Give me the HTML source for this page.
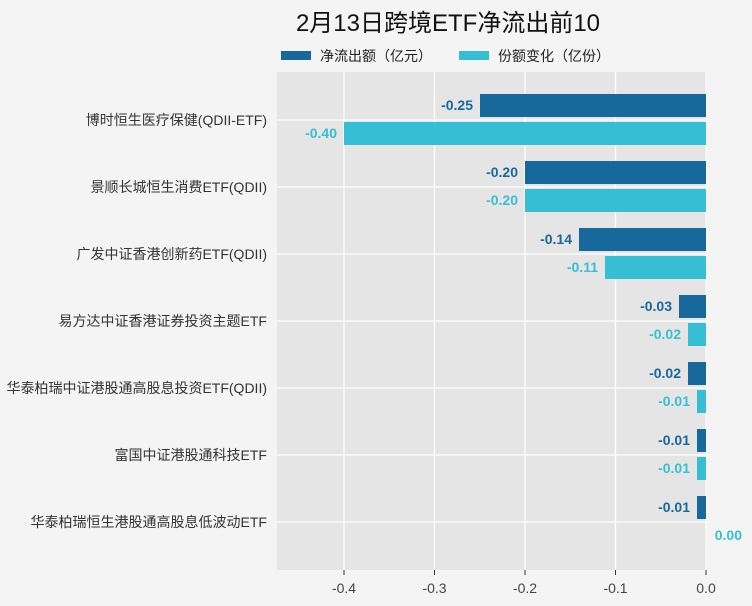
<!DOCTYPE html>
<html><head><meta charset="utf-8"><style>
body{margin:0;background:#f4f4f4;}
svg{display:block;font-family:"Liberation Sans","Noto Sans CJK SC",sans-serif;}
</style></head><body>
<svg width="752" height="606" viewBox="0 0 752 606">
<rect width="752" height="606" fill="#f4f4f4"/>
<text x="448" y="31" font-size="24" text-anchor="middle" fill="#111">2月13日跨境ETF净流出前10</text>
<rect x="281" y="51" width="30" height="9" fill="#17699b"/>
<text x="320" y="61" font-size="14" fill="#222">净流出额（亿元）</text>
<rect x="459" y="51" width="30" height="9" fill="#36bfd4"/>
<text x="498" y="61" font-size="14" fill="#222">份额变化（亿份）</text>
<rect x="277" y="72" width="429" height="498" fill="#e5e5e5"/>
<g stroke="#fff" stroke-width="1.2">
<line x1="344" y1="72" x2="344" y2="570"/><line x1="434.5" y1="72" x2="434.5" y2="570"/>
<line x1="525" y1="72" x2="525" y2="570"/><line x1="615.5" y1="72" x2="615.5" y2="570"/>
<line x1="706" y1="72" x2="706" y2="570"/>
<line x1="277" y1="120" x2="706" y2="120"/><line x1="277" y1="187" x2="706" y2="187"/>
<line x1="277" y1="254" x2="706" y2="254"/><line x1="277" y1="321" x2="706" y2="321"/>
<line x1="277" y1="388" x2="706" y2="388"/><line x1="277" y1="455" x2="706" y2="455"/>
<line x1="277" y1="522" x2="706" y2="522"/>
</g>
<g stroke="#333" stroke-width="1">
<line x1="344" y1="570" x2="344" y2="575"/><line x1="434.5" y1="570" x2="434.5" y2="575"/>
<line x1="525" y1="570" x2="525" y2="575"/><line x1="615.5" y1="570" x2="615.5" y2="575"/>
<line x1="706" y1="570" x2="706" y2="575"/>
</g>
<g font-size="14" fill="#444" text-anchor="middle">
<text x="344" y="593">-0.4</text><text x="434.5" y="593">-0.3</text><text x="525" y="593">-0.2</text><text x="615.5" y="593">-0.1</text><text x="706" y="593">0.0</text>
</g>
<g font-size="14" fill="#333" text-anchor="end">
<text x="267" y="125">博时恒生医疗保健(QDII-ETF)</text>
<text x="267" y="192">景顺长城恒生消费ETF(QDII)</text>
<text x="267" y="259">广发中证香港创新药ETF(QDII)</text>
<text x="267" y="326">易方达中证香港证券投资主题ETF</text>
<text x="267" y="393">华泰柏瑞中证港股通高股息投资ETF(QDII)</text>
<text x="267" y="460">富国中证港股通科技ETF</text>
<text x="267" y="527">华泰柏瑞恒生港股通高股息低波动ETF</text>
</g>
<g fill="#17699b">
<rect x="480" y="94" width="226" height="23"/>
<rect x="525" y="161" width="181" height="23"/>
<rect x="579" y="228" width="127" height="23"/>
<rect x="679" y="295" width="27" height="23"/>
<rect x="688" y="362" width="18" height="23"/>
<rect x="697" y="429" width="9" height="23"/>
<rect x="697" y="496" width="9" height="23"/>
</g>
<g fill="#36bfd4">
<rect x="344" y="122" width="362" height="23"/>
<rect x="525" y="189" width="181" height="23"/>
<rect x="605" y="256" width="101" height="23"/>
<rect x="688" y="323" width="18" height="23"/>
<rect x="697" y="390" width="9" height="23"/>
<rect x="697" y="457" width="9" height="23"/>
</g>
<g font-size="14" font-weight="bold" fill="#17699b" text-anchor="end">
<text x="473" y="110">-0.25</text><text x="518" y="177">-0.20</text><text x="572" y="244">-0.14</text>
<text x="672" y="311">-0.03</text><text x="681" y="378">-0.02</text><text x="690" y="445">-0.01</text><text x="690" y="512">-0.01</text>
</g>
<g font-size="14" font-weight="bold" fill="#36bfd4" text-anchor="end">
<text x="337" y="138">-0.40</text><text x="518" y="205">-0.20</text><text x="598" y="272">-0.11</text>
<text x="681" y="339">-0.02</text><text x="690" y="406">-0.01</text><text x="690" y="473">-0.01</text>
<text x="742" y="540">0.00</text>
</g>
</svg>
</body></html>
